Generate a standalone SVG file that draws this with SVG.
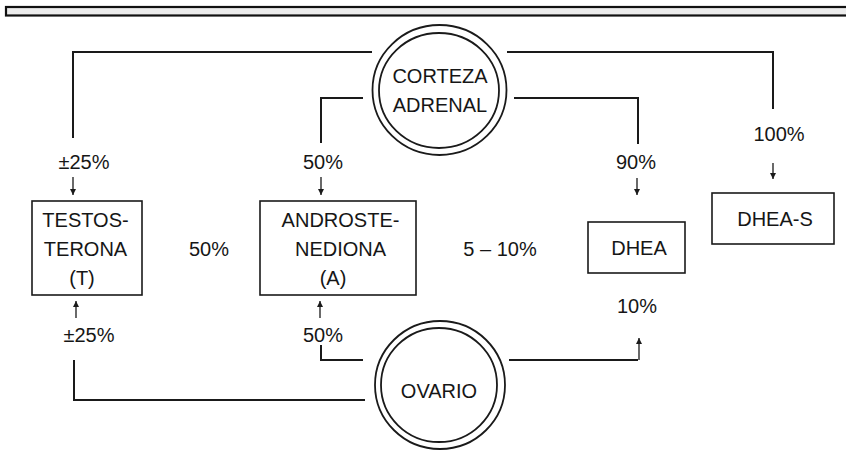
<svg xmlns="http://www.w3.org/2000/svg" width="846" height="450" viewBox="0 0 846 450">
<style>
text{font-family:"Liberation Sans",Arial,sans-serif;font-size:20px;fill:#161616;text-anchor:middle}
.box{fill:none;stroke:#1a1a1a;stroke-width:1.6}
.ring{fill:none;stroke:#1a1a1a;stroke-width:1.8}
.con{fill:none;stroke:#1a1a1a;stroke-width:2}
.arr{fill:none;stroke:#1a1a1a;stroke-width:1.3;marker-end:url(#ah)}
</style>
<defs>
<marker id="ah" markerUnits="userSpaceOnUse" markerWidth="7" markerHeight="7" refX="6" refY="3" orient="auto">
<path d="M0,0 L6,3 L0,6 z" fill="#1a1a1a"/>
</marker>
</defs>
<rect width="846" height="450" fill="#fff"/>
<rect id="topbar" x="6" y="7" width="846" height="8.5" fill="#ececec" stroke="#111" stroke-width="2.2"/>

<g id="connectors">
<polyline class="con" points="372,52 73,52 73,138"/>
<polyline class="con" points="363,98 321,98 321,143"/>
<polyline class="con" points="507,52 773,52 773,109"/>
<polyline class="con" points="514,98 638,98 638,144"/>
<polyline class="con" points="365,400 74,400 74,360"/>
<polyline class="con" points="363,360 321,360 321,345"/>
<polyline class="con" points="509,360 638,360"/>
<line class="arr" x1="73" y1="177" x2="73" y2="195"/>
<line class="arr" x1="321" y1="177" x2="321" y2="195"/>
<line class="arr" x1="637" y1="178" x2="637" y2="195"/>
<line class="arr" x1="773" y1="163" x2="773" y2="179"/>
<line class="arr" x1="76" y1="318" x2="76" y2="301"/>
<line class="arr" x1="320" y1="318" x2="320" y2="301"/>
<line class="arr" x1="639" y1="360" x2="639" y2="338"/>
</g>

<g id="labels">
<text x="84" y="169">±25%</text>
<text x="323" y="169">50%</text>
<text x="636" y="169">90%</text>
<text x="779" y="141">100%</text>
<text x="209" y="256">50%</text>
<text x="500" y="256">5 – 10%</text>
<text x="637" y="313">10%</text>
<text x="89" y="342">±25%</text>
<text x="323" y="342">50%</text>
</g>

<g id="corteza">
<ellipse class="ring" cx="439.5" cy="90" rx="67" ry="65"/>
<ellipse class="ring" cx="439" cy="90.5" rx="60" ry="57.5"/>
<text x="440" y="83">CORTEZA</text>
<text x="440" y="112">ADRENAL</text>
</g>

<g id="ovario">
<ellipse class="ring" cx="440" cy="385" rx="65" ry="64"/>
<ellipse class="ring" cx="439" cy="385" rx="58" ry="57"/>
<text x="439" y="398">OVARIO</text>
</g>

<g id="testosterona">
<rect class="box" x="32" y="201" width="110" height="94"/>
<text x="85.5" y="227">TESTOS-</text>
<text x="85.5" y="256">TERONA</text>
<text x="82" y="285">(T)</text>
</g>

<g id="androstenediona">
<rect class="box" x="260" y="201" width="156" height="94"/>
<text x="340.5" y="227">ANDROSTE-</text>
<text x="340.5" y="256">NEDIONA</text>
<text x="333" y="285">(A)</text>
</g>

<g id="dhea">
<rect class="box" x="588" y="222" width="97" height="51"/>
<text x="639" y="255">DHEA</text>
</g>

<g id="dheas">
<rect class="box" x="712" y="193" width="122" height="51"/>
<text x="775" y="226">DHEA-S</text>
</g>
</svg>
